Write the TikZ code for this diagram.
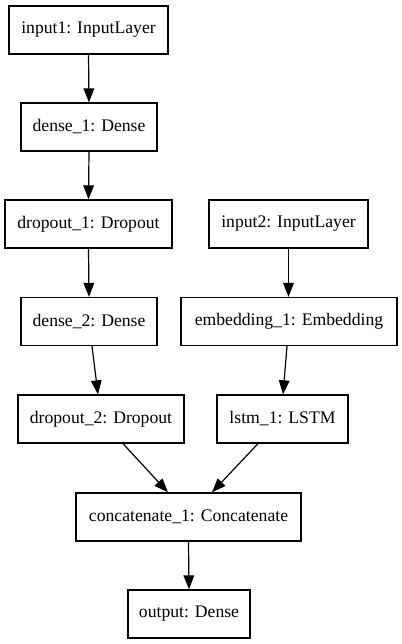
\documentclass[tikz,border=0pt]{standalone}
\usepackage{fontspec}
\setmainfont{Liberation Serif}
\usetikzlibrary{arrows.meta}
\begin{document}
\begin{tikzpicture}[x=0.75pt,y=-0.75pt,
  layer/.style={draw, line width=1pt, minimum height=36pt, inner sep=0pt,
    font=\fontsize{13.25}{16}\selectfont},
  flow/.style={line width=0.9pt, -{Triangle[length=10.5pt,width=8pt]}}]
\useasboundingbox (0,0) rectangle (401,644);
% left branch
\node[layer, minimum width=119.25pt] (in1) at (88.5,30) {input1: InputLayer};
\node[layer, minimum width=102pt]    (d1)  at (89,127) {dense\_1: Dense};
\node[layer, minimum width=125.25pt] (do1) at (88.5,224) {dropout\_1: Dropout};
\node[layer, minimum width=102pt]    (d2)  at (89,321.5) {dense\_2: Dense};
\node[layer, minimum width=124.5pt]  (do2) at (101,419) {dropout\_2: Dropout};
% right branch
\node[layer, minimum width=119.25pt] (in2) at (288.5,224) {input2: InputLayer};
\node[layer, minimum width=162pt]    (emb) at (289,321.5) {embedding\_1: Embedding};
\node[layer, minimum width=98.25pt]  (lstm) at (282.5,419) {lstm\_1: LSTM};
% merge and output
\node[layer, minimum width=168.75pt] (cat) at (188.5,517) {concatenate\_1: Concatenate};
\node[layer, minimum width=91.5pt]   (out) at (189,614) {output: Dense};
% connections
\draw[flow] (in1.south) -- (d1.north);
\draw[flow] (d1.south) -- (do1.north);
\draw[flow] (do1.south) -- (d2.north);
\draw[flow] ([xshift=2.25pt]d2.south) -- ([xshift=-2.25pt]do2.north);
\draw[flow] (in2.south) -- (in2.south |- emb.north);
\draw[flow] ([xshift=-1.5pt]emb.south) -- ([xshift=0.4pt]lstm.north);
\draw[flow] ([xshift=16.5pt]do2.south) -- ([xshift=-15.4pt]cat.north);
\draw[flow] ([xshift=-18.4pt]lstm.south) -- ([xshift=17.6pt]cat.north);
\draw[flow] (cat.south) -- (out.north);
\end{tikzpicture}
\end{document}
